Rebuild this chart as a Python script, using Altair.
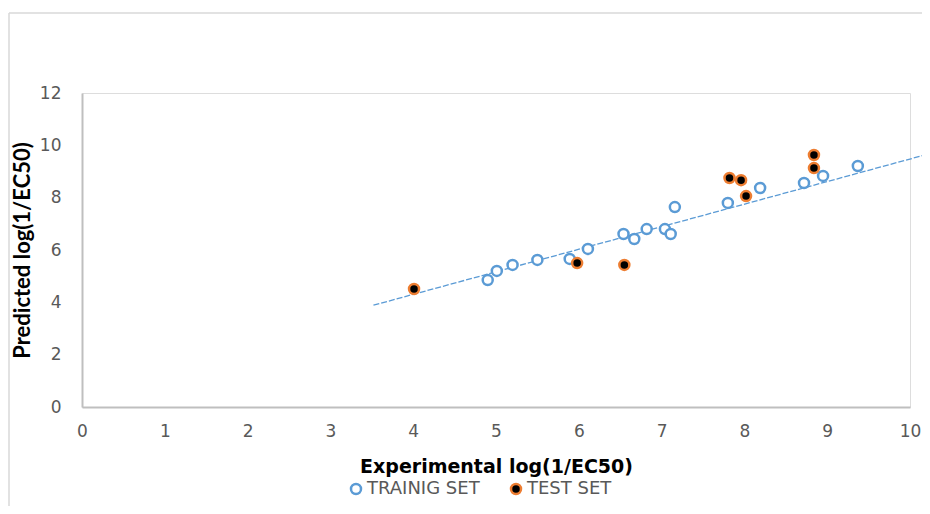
import altair as alt
import pandas as pd

# Data
train_x = [4.90, 5.01, 5.20, 5.50, 5.89, 6.11, 6.54, 6.67, 6.82, 7.04, 7.11, 7.16, 7.80, 8.19, 8.72, 8.95, 9.37]
train_y = [4.85, 5.20, 5.43, 5.62, 5.66, 6.04, 6.61, 6.42, 6.80, 6.80, 6.61, 7.64, 7.80, 8.37, 8.56, 8.83, 9.21]
test_x = [4.01, 5.98, 6.55, 7.82, 7.96, 8.02, 8.84, 8.84]
test_y = [4.51, 5.50, 5.43, 8.75, 8.67, 8.06, 9.63, 9.13]
trend_x = [3.52, 10.2]
trend_y = [3.89, 9.65]
set_names = ["TRAINIG SET", "TEST SET"]
x_ticks = list(range(0, 11))
y_ticks = [0, 2, 4, 6, 8, 10, 12]

pts = pd.DataFrame({
    "x": train_x + test_x,
    "y": train_y + test_y,
    "set": [set_names[0]] * len(train_x) + [set_names[1]] * len(test_x),
})
trend = pd.DataFrame({"x": trend_x, "y": trend_y})

WIDE = "DejaVu Sans"
FONT = "Lato"
GRAY = "#595959"

xs = alt.Scale(domain=[0, 10], nice=False)
ys = alt.Scale(domain=[0, 12], nice=False)

x_axis = alt.Axis(values=x_ticks, format="d", labelFlush=False, title="Experimental log(1/EC50)",
                  grid=False, ticks=False,
                  domainColor="#bfbfbf", domainWidth=2, labelColor=GRAY, labelFontSize=17,
                  labelFont=WIDE, labelPadding=16, titleFont=WIDE, titleFontSize=19,
                  titleFontWeight="bold", titleColor="black", titlePadding=18)
y_axis = alt.Axis(values=y_ticks, format="d", labelFlush=False, title="Predicted log(1/EC50)",
                  grid=False, ticks=False,
                  domainColor="#bfbfbf", domainWidth=2, labelColor=GRAY, labelFontSize=17,
                  labelFont=WIDE, labelPadding=21, titleFont=FONT, titleFontSize=22,
                  titleFontWeight="bold", titleColor="black", titlePadding=5)

line = alt.Chart(trend).mark_line(color="#5b9bd5", strokeWidth=1.3, strokeDash=[6, 2], clip=False).encode(
    x=alt.X("x:Q", scale=xs, axis=x_axis),
    y=alt.Y("y:Q", scale=ys, axis=y_axis),
)

leg = alt.Legend(title=None, orient="none", legendX=265, legendY=387,
                 direction="horizontal", labelFontSize=18, labelColor=GRAY,
                 labelFont=WIDE, symbolSize=100, symbolStrokeWidth=2.5,
                 columnPadding=26, labelOffset=2, padding=0, symbolType="circle")

points = alt.Chart(pts).mark_point(shape="circle", size=100, strokeWidth=2.5, opacity=1, filled=False).encode(
    x=alt.X("x:Q", scale=xs),
    y=alt.Y("y:Q", scale=ys),
    stroke=alt.Stroke("set:N", scale=alt.Scale(domain=set_names, range=["#5b9bd5", "#ed7d31"]), legend=leg),
    fill=alt.Fill("set:N", scale=alt.Scale(domain=set_names, range=["white", "black"]), legend=leg),
    order=alt.Order("set:N", sort="descending"),
)

one = pd.DataFrame({"a": [0]})
border_top = alt.Chart(one).mark_rule(color="#d9d9d9", strokeWidth=1.5).encode(
    x=alt.value(-73), x2=alt.value(840), y=alt.value(-80))
border_left = alt.Chart(one).mark_rule(color="#d9d9d9", strokeWidth=1.5).encode(
    x=alt.value(-73), y=alt.value(-80), y2=alt.value(413))

chart = alt.layer(border_top, border_left, line, points).properties(
    width=828, height=314,
    autosize=alt.AutoSizeParams(type="none"),
    padding={"left": 74, "top": 85, "right": 12, "bottom": 99},
).configure_view(stroke=None).configure(background="white")

chart.save("out.html", embed_options={"renderer": "svg", "actions": False})
